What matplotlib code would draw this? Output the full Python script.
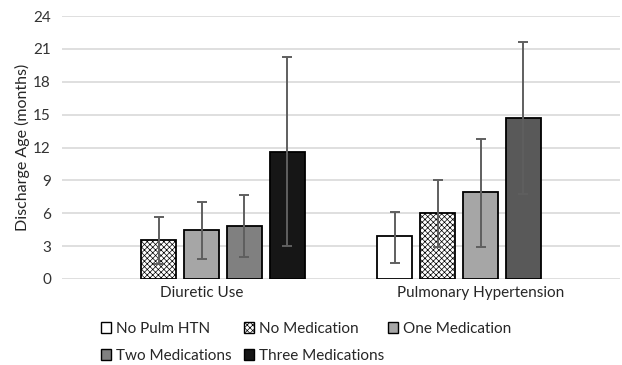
import numpy as np
import matplotlib.pyplot as plt
from matplotlib.patches import Patch

plt.rcParams['font.family'] = ['Lato', 'DejaVu Sans']
plt.rcParams['hatch.color'] = '#c4c4c4'
plt.rcParams['hatch.linewidth'] = 0.5

categories = ["Diuretic Use", "Pulmonary Hypertension"]
series = ["No Pulm HTN", "No Medication", "One Medication", "Two Medications", "Three Medications"]

# mean discharge age (months) per series, per category
means = {
    "No Pulm HTN": [np.nan, 3.9],
    "No Medication": [3.6, 6.0],
    "One Medication": [4.45, 7.9],
    "Two Medications": [4.85, 14.7],
    "Three Medications": [11.6, np.nan],
}
err_low = {
    "No Pulm HTN": [np.nan, 1.5],
    "No Medication": [1.4, 2.9],
    "One Medication": [1.85, 2.95],
    "Two Medications": [2.0, 7.8],
    "Three Medications": [3.0, np.nan],
}
err_high = {
    "No Pulm HTN": [np.nan, 6.1],
    "No Medication": [5.7, 9.0],
    "One Medication": [7.05, 12.75],
    "Two Medications": [7.65, 21.6],
    "Three Medications": [20.25, np.nan],
}
fills = {
    "No Pulm HTN": ["white", "white"],
    "No Medication": ["white", "white"],
    "One Medication": ["#a6a6a6", "#a6a6a6"],
    "Two Medications": ["#808080", "#595959"],
    "Three Medications": ["#161616", "#161616"],
}
hatches = {"No Medication": "xxxxxx"}

fig = plt.figure(figsize=(6.22, 3.65), dpi=100)
ax = fig.add_axes([62 / 622, 86 / 365, 558 / 622, 263 / 365])

x = np.arange(len(categories))
step = 0.154
width = 0.125
for i, s in enumerate(series):
    pos = x + (i - 2) * step
    m = np.array(means[s])
    lo = m - np.array(err_low[s])
    hi = np.array(err_high[s]) - m
    for j in range(len(categories)):
        if np.isnan(m[j]):
            continue
        ax.bar(pos[j], m[j], width, color=fills[s][j], edgecolor="black",
               linewidth=1.3, hatch=hatches.get(s), zorder=3)
        ax.errorbar(pos[j], m[j], yerr=[[lo[j]], [hi[j]]], fmt="none",
                    ecolor="#5f5f5f", elinewidth=1.4, capsize=3.5,
                    capthick=1.4, zorder=4)

ax.set_xlim(-0.5, 1.5)
ax.set_ylim(0, 24)
ax.set_yticks(np.arange(0, 25, 3))
ax.set_xticks(x)
ax.set_xticklabels(categories, fontsize=11, color="#262626")
ax.tick_params(axis="y", labelsize=11, colors="#333333", length=0, pad=8)
ax.tick_params(axis="x", length=0, pad=5)
ax.grid(axis="y", color="#d9d9d9", linewidth=1.2, zorder=0)
for sp in ax.spines.values():
    sp.set_visible(False)
ax.set_ylabel("Discharge Age (months)", fontsize=11.5, color="#262626", labelpad=2)

legend_fill = ["white", "white", "#a6a6a6", "#808080", "#161616"]
handles = []
for i, s in enumerate(series):
    handles.append(Patch(facecolor=legend_fill[i], edgecolor="black", linewidth=1.0,
                         hatch=hatches.get(s), label=s))

# legend laid out in rows like the original: three columns at fixed x
columns = [[0, 3], [1, 4], [2]]
col_x = [87, 230, 374]
for cx, idx in zip(col_x, columns):
    leg = fig.legend([handles[k] for k in idx], [series[k] for k in idx],
                     loc="upper left", bbox_to_anchor=(cx / 622, 1 - 308 / 365),
                     frameon=False, fontsize=11, handlelength=0.7,
                     handleheight=0.7, handletextpad=0.3,
                     labelspacing=0.85, labelcolor="#262626")

fig.savefig("out.png", dpi=100)
